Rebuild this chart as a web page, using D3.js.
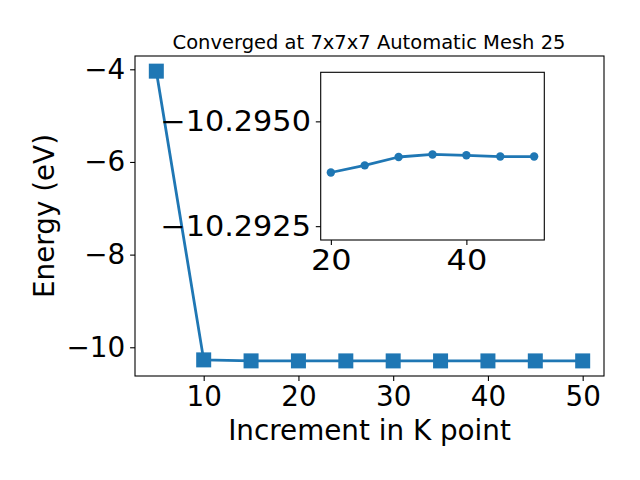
<!DOCTYPE html>
<html>
<head>
<meta charset="utf-8">
<script src="https://cdn.jsdelivr.net/npm/d3@7"></script>
<style>
  html, body { margin: 0; padding: 0; background: #fff; }
  svg { display: block; font-family: "DejaVu Sans", sans-serif; }
</style>
</head>
<body>
<svg id="chart" width="640" height="480"></svg>
<script>
// ---- data ----
const kPoints = [5, 10, 15, 20, 25, 30, 35, 40, 45, 50];
const energies = [-4.04, -10.272, -10.2935, -10.29378, -10.29395, -10.29415, -10.29421, -10.29419, -10.29416, -10.29416];
const insetK = [20, 25, 30, 35, 40, 45, 50];
const insetE = [-10.29378, -10.29395, -10.29415, -10.29421, -10.29419, -10.29416, -10.29416];
const mainXTicks = [10, 20, 30, 40, 50];
const mainYTicks = [-10, -8, -6, -4];
const insetXTicks = [20, 40];
const insetYTicks = [-10.2950, -10.2925];
const titleText = "Converged at 7x7x7 Automatic Mesh 25";
const xLabel = "Increment in K point";
const yLabel = "Energy (eV)";

const color = "#1f77b4";
const svg = d3.select("#chart");
const fs = 27.8;

// ---- main axes ----
const M = { left: 135, right: 604, top: 56, bottom: 376 };
const x = d3.scaleLinear().domain([2.75, 52.25]).range([M.left, M.right]);
const y = d3.scaleLinear().domain([-10.62, -3.713]).range([M.bottom, M.top]);

const main = svg.append("g");
const line = d3.line().x((d, i) => x(kPoints[i])).y(d => y(d));
main.append("path").datum(energies)
  .attr("d", line).attr("fill", "none").attr("stroke", color)
  .attr("stroke-width", 2.8).attr("stroke-linejoin", "round");
main.selectAll("rect.m").data(energies).enter().append("rect")
  .attr("class", "m")
  .attr("x", (d, i) => x(kPoints[i]) - 7.5)
  .attr("y", d => y(d) - 7.5)
  .attr("width", 15).attr("height", 15)
  .attr("fill", color);

const xAxis = d3.axisBottom(x).tickValues(mainXTicks).tickSize(4.9).tickPadding(4.9).tickFormat(d3.format("d"));
const yAxis = d3.axisLeft(y).tickValues(mainYTicks).tickSize(4.9).tickPadding(4.9).tickFormat(d3.format("d"));
const gx = main.append("g").attr("transform", `translate(0,${M.bottom})`).call(xAxis);
const gy = main.append("g").attr("transform", `translate(${M.left},0)`).call(yAxis);
[gx, gy].forEach(g => {
  g.select(".domain").remove();
  g.selectAll("line").attr("stroke", "#000").attr("stroke-width", 1.1);
  g.selectAll("text").attr("font-size", fs).attr("font-family", "DejaVu Sans").attr("fill", "#000");
});
main.append("rect").attr("x", M.left).attr("y", M.top)
  .attr("width", M.right - M.left).attr("height", M.bottom - M.top)
  .attr("fill", "none").attr("stroke", "#000").attr("stroke-width", 1.1);

svg.append("text").attr("x", (M.left + M.right) / 2 - 0.5).attr("y", 49)
  .attr("text-anchor", "middle").attr("font-size", 19.5).text(titleText);
svg.append("text").attr("x", (M.left + M.right) / 2).attr("y", 440)
  .attr("text-anchor", "middle").attr("font-size", fs).text(xLabel);
svg.append("text").attr("transform", `translate(54,${(M.top + M.bottom) / 2}) rotate(-90)`)
  .attr("text-anchor", "middle").attr("font-size", fs).text(yLabel);

// ---- inset axes ----
const I = { left: 320.7, right: 544.3, top: 72.3, bottom: 240 };
const xi = d3.scaleLinear().domain([18.5, 51.5]).range([I.left, I.right]);
const yi = d3.scaleLinear().domain([-10.29617, -10.29217]).range([I.top, I.bottom]);
const inset = svg.append("g");
inset.append("rect").attr("x", I.left).attr("y", I.top)
  .attr("width", I.right - I.left).attr("height", I.bottom - I.top)
  .attr("fill", "#fff");
const iline = d3.line().x((d, i) => xi(insetK[i])).y(d => yi(d));
inset.append("path").datum(insetE).attr("d", iline)
  .attr("fill", "none").attr("stroke", color).attr("stroke-width", 2.8).attr("stroke-linejoin", "round");
inset.selectAll("circle").data(insetE).enter().append("circle")
  .attr("cx", (d, i) => xi(insetK[i])).attr("cy", d => yi(d)).attr("r", 4.2).attr("fill", color);
const xiAxis = d3.axisBottom(xi).tickValues(insetXTicks).tickSize(4.9).tickPadding(4.9).tickFormat(d3.format("d"));
const yiAxis = d3.axisLeft(yi).tickValues(insetYTicks).tickSize(4.9).tickPadding(4.9).tickFormat(d3.format(".4f"));
const gxi = inset.append("g").attr("transform", `translate(0,${I.bottom})`).call(xiAxis);
const gyi = inset.append("g").attr("transform", `translate(${I.left},0)`).call(yiAxis);
[gxi, gyi].forEach(g => {
  g.select(".domain").remove();
  g.selectAll("line").attr("stroke", "#000").attr("stroke-width", 1.1);
  g.selectAll("text").attr("font-size", fs).attr("font-family", "DejaVu Sans").attr("fill", "#000");
});
// inset tick labels appear horizontally wider in the reference
const sxX = 1.15, sxY = 1.09;
gxi.selectAll("text").attr("transform", `scale(${sxX},1)`);
gyi.selectAll("text").each(function() {
  const t = d3.select(this);
  const x0 = +t.attr("x");
  t.attr("x", x0 / sxY).attr("transform", `scale(${sxY},1)`);
});
inset.append("rect").attr("x", I.left).attr("y", I.top)
  .attr("width", I.right - I.left).attr("height", I.bottom - I.top)
  .attr("fill", "none").attr("stroke", "#000").attr("stroke-width", 1.1);
</script>
</body>
</html>
